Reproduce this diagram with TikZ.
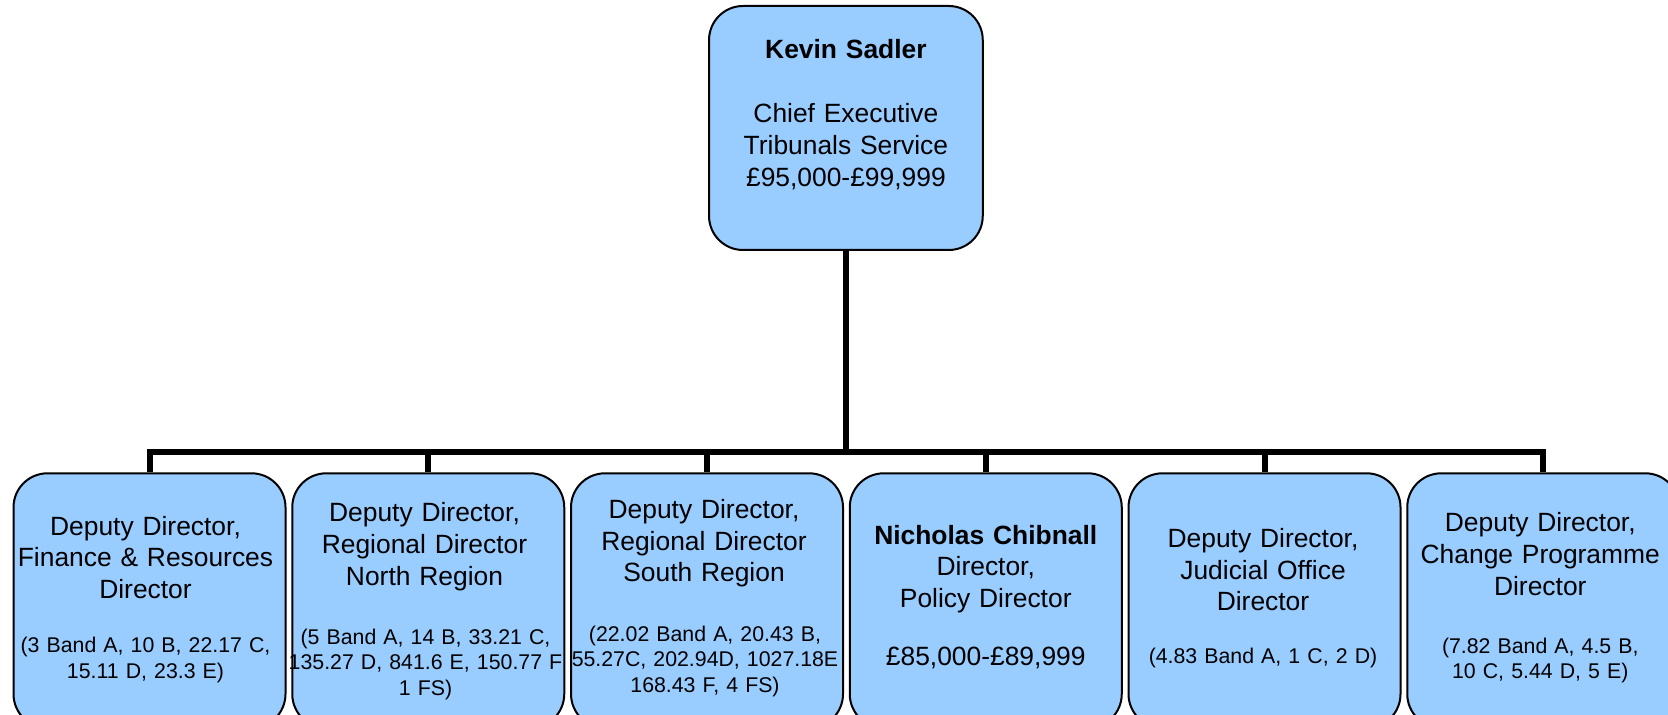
\documentclass[tikz,border=0pt]{standalone}
\usepackage{fontspec}
\setmainfont{Liberation Sans}
\definecolor{boxblue}{RGB}{153,204,255}
\begin{document}
\begin{tikzpicture}[x=0.5pt,y=-0.5pt,
  orgbox/.style={draw=black, line width=1pt, fill=boxblue,
    rounded corners=17pt, inner sep=0pt, minimum width=136pt},
  topbox/.style={orgbox, minimum width=136.85pt, minimum height=122pt},
  unitbox/.style={orgbox, minimum height=127.35pt},
  bigtext/.style={text width=150pt, align=center, inner sep=0pt, anchor=base,
    font=\fontsize{13.2pt}{15.9pt}\selectfont},
  smalltext/.style={text width=150pt, align=center, inner sep=0pt, anchor=base,
    font=\fontsize{10.65pt}{12.75pt}\selectfont},
  link/.style={draw=black, line width=3pt}]
\fill[white] (0,0) rectangle (1668,715);
\useasboundingbox (0,0) rectangle (1668,715);

% chief executive
\node[topbox] (ceo) at (845.9,128) {};
\node[bigtext] (ceoName) at (845.9,58.3) {\bfseries Kevin Sadler};
\node[bigtext] (ceoRole) at (845.9,122.7)
  {Chief Executive\\Tribunals Service\\£95,000-£99,999};

% directorates
\node[unitbox] (fin) at (149.5,600.65) {};
\node[unitbox] (north) at (428.25,600.65) {};
\node[unitbox] (south) at (707,600.65) {};
\node[unitbox] (policy) at (985.75,600.65) {};
\node[unitbox] (judicial) at (1264.5,600.65) {};
\node[unitbox] (change) at (1543.25,600.65) {};

\node[bigtext] (finRole) at (145.5,535)
  {Deputy Director,\\Finance \& Resources\\Director};
\node[smalltext] (finStaff) at (145.5,652.7)
  {(3 Band A, 10 B, 22.17 C,\\15.11 D, 23.3 E)};

\node[bigtext] (northRole) at (424.5,521.7)
  {Deputy Director,\\Regional Director\\North Region};
\node[smalltext] (northStaff) at (425.5,644.3)
  {(5 Band A, 14 B, 33.21 C,\\135.27 D, 841.6 E, 150.77 F\\1 FS)};

\node[bigtext] (southRole) at (704,518.3)
  {Deputy Director,\\Regional Director\\South Region};
\node[smalltext] (southStaff) at (705,641)
  {(22.02 Band A, 20.43 B,\\55.27C, 202.94D, 1027.18E\\168.43 F, 4 FS)};

\node[bigtext] (policyRole) at (985.75,544)
  {{\bfseries Nicholas Chibnall}\\Director,\\Policy Director};
\node[bigtext] (policyPay) at (985.75,665) {£85,000-£89,999};

\node[bigtext] (judicialRole) at (1263,547.3)
  {Deputy Director,\\Judicial Office\\Director};
\node[smalltext] (judicialStaff) at (1263,663.3)
  {(4.83 Band A, 1 C, 2 D)};

\node[bigtext] (changeRole) at (1540.25,531.7)
  {Deputy Director,\\Change Programme\\Director};
\node[smalltext] (changeStaff) at (1540.25,653.3)
  {(7.82 Band A, 4.5 B,\\10 C, 5.44 D, 5 E)};

% reporting lines
\coordinate (bus) at (0,452);
\draw[link] (ceo.south) -- (ceo.south |- bus);
\draw[link] (fin.north) -- (fin.north |- bus) -- (change.north |- bus) -- (change.north);
\foreach \u in {north,south,policy,judicial}
  \draw[link] (\u.north |- bus) -- (\u.north);
\end{tikzpicture}
\end{document}
